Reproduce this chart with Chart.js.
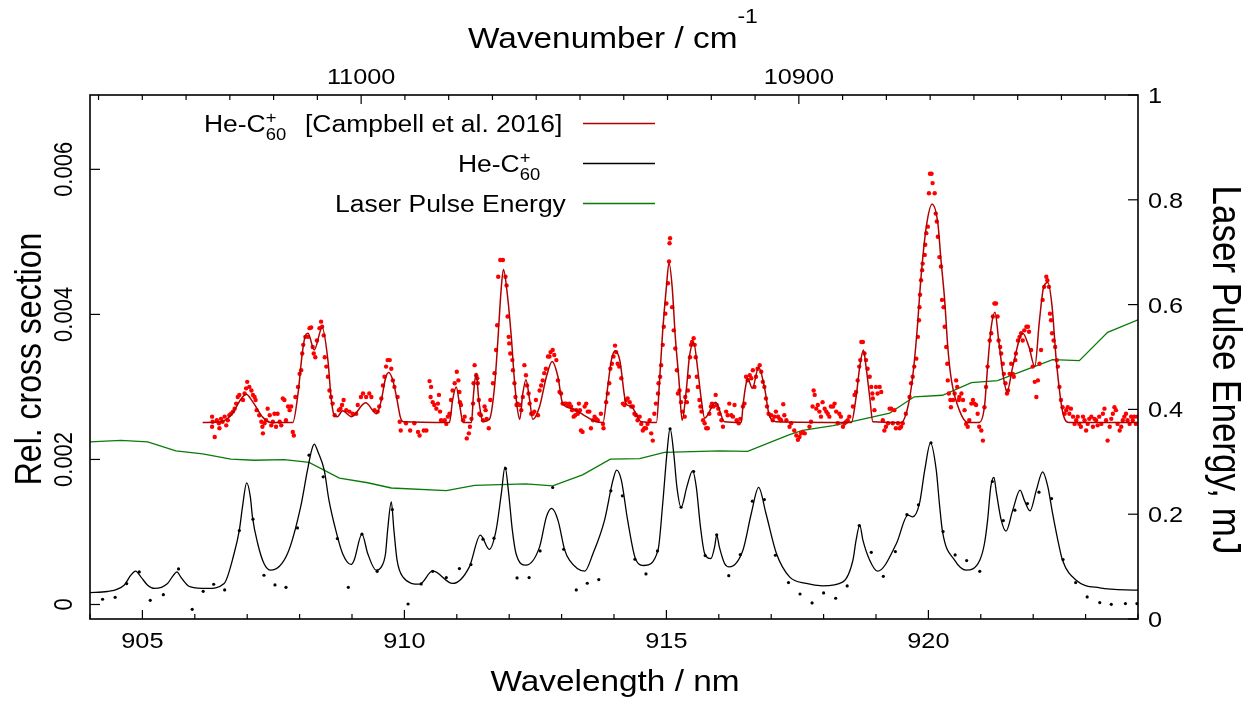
<!DOCTYPE html>
<html>
<head>
<meta charset="utf-8">
<title>He-C60+ spectrum</title>
<script src="https://cdn.jsdelivr.net/npm/chart.js@4.4.1/dist/chart.umd.min.js"></script>
<style>
	html, body { margin: 0; padding: 0; background: #ffffff; }
	#wrap { width: 1248px; height: 702px; }
</style>
</head>
<body>
<div id="wrap"><canvas id="chart" width="1248" height="702"></canvas></div>
<script>

// Tick positions and labels
const nmMajor = [905, 910, 915, 920];
const nmMinor = [904, 905, 906, 907, 908, 909, 910, 911, 912, 913, 914, 915, 916, 917, 918, 919, 920, 921, 922, 923, 924];
const wnMajor = [11000, 10900];
const wnMinor = [11060, 11050, 11040, 11030, 11020, 11010, 11000, 10990, 10980, 10970, 10960, 10950, 10940, 10930, 10920, 10910, 10900, 10890, 10880, 10870, 10860, 10850, 10840, 10830];
const crossTicks = [0, 0.002, 0.004, 0.006];
const crossLabels = ['0', '0.002', '0.004', '0.006'];
const energyTicks = [0, 0.2, 0.4, 0.6, 0.8, 1];
const energyLabels = ['0', '0.2', '0.4', '0.6', '0.8', '1'];

// He-C60+ [Campbell et al. 2016]: fitted profile (nm, rel. cross section)
const campbellFit = [
	[906.15,0.00251],[906.50,0.00252],[906.70,0.00262],[906.90,0.00285],[906.98,0.00290],[907.10,0.00280],[907.30,0.00258],[907.45,0.00251],
	[907.87,0.00251],[907.97,0.00291],[908.05,0.00346],[908.11,0.00371],[908.16,0.00374],[908.28,0.00351],[908.43,0.00382],[908.54,0.00337],
	[908.60,0.00286],[908.65,0.00263],[908.72,0.00259],[908.82,0.00267],[908.99,0.00259],[909.26,0.00278],[909.47,0.00263],[909.56,0.00282],
	[909.64,0.00312],[909.70,0.00320],[909.78,0.00309],[909.86,0.00282],[909.92,0.00259],[909.98,0.00252],[910.86,0.00251],[910.92,0.00282],
	[910.99,0.00300],[911.05,0.00277],[911.12,0.00251],[911.28,0.00251],[911.32,0.00291],[911.37,0.00319],[911.42,0.00282],[911.50,0.00252],
	[911.62,0.00255],[911.72,0.00300],[911.78,0.00360],[911.85,0.00438],[911.89,0.00462],[911.97,0.00424],[912.04,0.00369],[912.10,0.00309],
	[912.15,0.00273],[912.20,0.00255],[912.26,0.00291],[912.32,0.00310],[912.39,0.00282],[912.45,0.00255],[912.58,0.00273],[912.71,0.00314],
	[912.82,0.00335],[912.93,0.00314],[913.02,0.00277],[913.21,0.00270],[913.47,0.00259],[913.66,0.00252],[913.79,0.00251],[913.88,0.00300],
	[913.95,0.00337],[914.02,0.00350],[914.11,0.00337],[914.23,0.00277],[914.33,0.00273],[914.52,0.00252],[914.81,0.00251],[914.87,0.00309],
	[914.93,0.00378],[915.00,0.00438],[915.05,0.00471],[915.11,0.00438],[915.17,0.00369],[915.24,0.00309],[915.30,0.00254],[915.38,0.00296],
	[915.44,0.00342],[915.52,0.00361],[915.60,0.00323],[915.66,0.00286],[915.73,0.00257],[915.94,0.00279],[916.11,0.00252],[916.43,0.00251],
	[916.46,0.00273],[916.51,0.00300],[916.55,0.00312],[916.64,0.00298],[916.76,0.00327],[916.87,0.00300],[916.97,0.00259],[917.10,0.00252],
	[918.53,0.00251],[918.62,0.00286],[918.69,0.00328],[918.76,0.00351],[918.81,0.00328],[918.88,0.00286],[918.94,0.00252],[919.48,0.00251],
	[919.61,0.00273],[919.70,0.00314],[919.78,0.00374],[919.86,0.00452],[919.96,0.00521],[920.07,0.00552],[920.18,0.00526],[920.24,0.00475],
	[920.31,0.00420],[920.37,0.00355],[920.44,0.00309],[920.59,0.00268],[920.75,0.00251],[920.97,0.00251],[921.07,0.00273],[921.13,0.00328],
	[921.20,0.00383],[921.27,0.00403],[921.34,0.00365],[921.42,0.00319],[921.50,0.00293],[921.61,0.00328],[921.80,0.00374],[921.92,0.00355],
	[922.03,0.00328],[922.12,0.00392],[922.20,0.00438],[922.28,0.00444],[922.36,0.00411],[922.44,0.00337],[922.57,0.00263],[922.69,0.00251],
	[924.00,0.00251]
];

// He-C60+ [Campbell et al. 2016]: measured points
const campbellPoints = [
	[906.33,0.00259],[906.34,0.00252],[906.33,0.00245],[906.38,0.00231],[906.42,0.00254],[906.46,0.00250],[906.47,0.00243],[906.50,0.00256],
	[906.53,0.00252],[906.57,0.00259],[906.60,0.00247],[906.63,0.00254],[906.66,0.00261],[906.69,0.00263],[906.73,0.00266],[906.76,0.00270],
	[906.79,0.00277],[906.82,0.00286],[906.85,0.00289],[906.92,0.00282],[906.95,0.00291],[906.98,0.00298],[907.00,0.00307],[907.04,0.00300],
	[907.08,0.00295],[907.11,0.00289],[907.14,0.00286],[907.16,0.00282],[907.18,0.00268],[907.23,0.00261],[907.27,0.00252],[907.29,0.00245],
	[907.30,0.00236],[907.33,0.00250],[907.36,0.00254],[907.39,0.00270],[907.43,0.00261],[907.46,0.00247],[907.49,0.00252],[907.52,0.00263],
	[907.55,0.00245],[907.58,0.00263],[907.62,0.00252],[907.65,0.00247],[907.68,0.00284],[907.71,0.00282],[907.74,0.00254],[907.78,0.00273],
	[907.81,0.00268],[907.84,0.00273],[907.87,0.00238],[907.89,0.00233],[907.92,0.00286],[907.97,0.00300],[908.00,0.00318],[908.03,0.00323],
	[908.05,0.00346],[908.07,0.00358],[908.11,0.00369],[908.16,0.00369],[908.19,0.00381],[908.22,0.00382],[908.25,0.00355],[908.27,0.00346],
	[908.30,0.00341],[908.33,0.00364],[908.38,0.00381],[908.41,0.00390],[908.43,0.00383],[908.46,0.00371],[908.48,0.00341],[908.51,0.00328],
	[908.54,0.00314],[908.57,0.00295],[908.60,0.00286],[908.63,0.00277],[908.67,0.00261],[908.75,0.00268],[908.78,0.00270],[908.81,0.00275],
	[908.84,0.00282],[908.89,0.00268],[908.95,0.00266],[909.01,0.00263],[909.08,0.00263],[909.11,0.00275],[909.17,0.00286],[909.21,0.00291],
	[909.27,0.00286],[909.33,0.00291],[909.37,0.00286],[909.43,0.00268],[909.49,0.00266],[909.52,0.00273],[909.56,0.00284],[909.59,0.00302],
	[909.62,0.00314],[909.65,0.00328],[909.68,0.00337],[909.72,0.00337],[909.75,0.00325],[909.78,0.00309],[909.81,0.00300],[909.87,0.00286],
	[909.91,0.00252],[909.93,0.00240],[910.03,0.00250],[910.11,0.00240],[910.19,0.00250],[910.26,0.00238],[910.29,0.00233],[910.37,0.00240],
	[910.42,0.00240],[910.48,0.00308],[910.51,0.00300],[910.50,0.00286],[910.54,0.00279],[910.57,0.00275],[910.61,0.00270],[910.64,0.00277],
	[910.66,0.00289],[910.68,0.00266],[910.70,0.00254],[910.77,0.00254],[910.80,0.00249],[910.83,0.00259],[910.86,0.00263],[910.89,0.00282],
	[910.92,0.00295],[910.96,0.00305],[911.00,0.00321],[911.03,0.00309],[911.05,0.00293],[911.06,0.00279],[911.08,0.00275],[911.12,0.00254],
	[911.15,0.00259],[911.19,0.00229],[911.23,0.00236],[911.25,0.00245],[911.28,0.00256],[911.31,0.00277],[911.32,0.00305],[911.34,0.00330],
	[911.37,0.00316],[911.39,0.00312],[911.40,0.00305],[911.42,0.00282],[911.43,0.00263],[911.46,0.00261],[911.50,0.00254],[911.53,0.00273],
	[911.55,0.00268],[911.57,0.00256],[911.61,0.00243],[911.64,0.00282],[911.69,0.00305],[911.72,0.00319],[911.75,0.00351],[911.77,0.00385],
	[911.79,0.00452],[911.83,0.00475],[911.88,0.00475],[911.93,0.00452],[911.95,0.00440],[911.97,0.00397],[911.99,0.00369],[912.00,0.00360],
	[912.02,0.00346],[912.06,0.00337],[912.07,0.00323],[912.10,0.00305],[912.12,0.00286],[912.14,0.00275],[912.16,0.00277],[912.20,0.00275],
	[912.23,0.00268],[912.26,0.00286],[912.29,0.00330],[912.32,0.00316],[912.34,0.00302],[912.37,0.00291],[912.39,0.00277],[912.42,0.00263],
	[912.45,0.00263],[912.48,0.00266],[912.51,0.00282],[912.55,0.00261],[912.58,0.00295],[912.61,0.00302],[912.64,0.00309],[912.67,0.00319],
	[912.70,0.00325],[912.74,0.00342],[912.77,0.00342],[912.79,0.00348],[912.83,0.00351],[912.86,0.00344],[912.90,0.00337],[912.93,0.00309],
	[912.96,0.00293],[912.99,0.00291],[913.02,0.00277],[913.06,0.00277],[913.09,0.00277],[913.12,0.00275],[913.15,0.00277],[913.18,0.00273],
	[913.20,0.00268],[913.23,0.00259],[913.26,0.00261],[913.28,0.00268],[913.31,0.00263],[913.33,0.00277],[913.35,0.00268],[913.37,0.00240],
	[913.40,0.00238],[913.44,0.00273],[913.47,0.00277],[913.50,0.00266],[913.53,0.00266],[913.56,0.00243],[913.60,0.00254],[913.63,0.00259],
	[913.66,0.00256],[913.69,0.00254],[913.75,0.00263],[913.79,0.00249],[913.80,0.00243],[913.85,0.00279],[913.88,0.00291],[913.91,0.00305],
	[913.93,0.00325],[913.96,0.00332],[913.99,0.00342],[914.02,0.00357],[914.04,0.00348],[914.07,0.00332],[914.10,0.00328],[914.14,0.00312],
	[914.17,0.00277],[914.20,0.00275],[914.23,0.00282],[914.26,0.00284],[914.30,0.00279],[914.33,0.00273],[914.36,0.00273],[914.39,0.00263],
	[914.42,0.00261],[914.45,0.00254],[914.49,0.00259],[914.52,0.00249],[914.55,0.00240],[914.58,0.00243],[914.61,0.00243],[914.64,0.00249],
	[914.68,0.00254],[914.71,0.00236],[914.74,0.00226],[914.77,0.00263],[914.80,0.00277],[914.84,0.00291],[914.85,0.00305],[914.88,0.00314],
	[914.90,0.00330],[914.93,0.00358],[914.95,0.00383],[914.98,0.00401],[915.00,0.00415],[915.03,0.00443],[915.05,0.00473],[915.06,0.00498],
	[915.07,0.00505],[915.11,0.00410],[915.14,0.00378],[915.17,0.00353],[915.20,0.00323],[915.22,0.00291],[915.25,0.00295],[915.28,0.00279],
	[915.31,0.00266],[915.35,0.00259],[915.36,0.00286],[915.39,0.00279],[915.41,0.00295],[915.43,0.00314],[915.45,0.00341],[915.47,0.00358],
	[915.49,0.00362],[915.52,0.00367],[915.54,0.00358],[915.56,0.00341],[915.58,0.00314],[915.60,0.00300],[915.63,0.00282],[915.65,0.00273],
	[915.67,0.00266],[915.70,0.00254],[915.73,0.00250],[915.76,0.00243],[915.79,0.00243],[915.82,0.00263],[915.85,0.00273],[915.87,0.00277],
	[915.90,0.00273],[915.94,0.00289],[915.96,0.00275],[915.99,0.00270],[916.01,0.00263],[916.05,0.00254],[916.08,0.00245],[916.14,0.00266],
	[916.17,0.00261],[916.20,0.00277],[916.24,0.00261],[916.27,0.00259],[916.30,0.00275],[916.34,0.00254],[916.38,0.00250],[916.41,0.00256],
	[916.46,0.00273],[916.49,0.00277],[916.52,0.00314],[916.55,0.00309],[916.59,0.00316],[916.62,0.00312],[916.65,0.00323],[916.68,0.00300],
	[916.71,0.00314],[916.74,0.00325],[916.78,0.00330],[916.81,0.00321],[916.84,0.00307],[916.87,0.00300],[916.90,0.00284],[916.92,0.00273],
	[916.95,0.00263],[917.00,0.00261],[917.03,0.00254],[917.06,0.00259],[917.09,0.00266],[917.13,0.00259],[917.16,0.00256],[917.19,0.00254],
	[917.23,0.00276],[917.25,0.00261],[917.29,0.00254],[917.35,0.00245],[917.38,0.00250],[917.44,0.00240],[917.48,0.00233],[917.51,0.00227],
	[917.54,0.00231],[917.57,0.00236],[917.60,0.00238],[917.64,0.00236],[917.73,0.00245],[917.76,0.00252],[917.79,0.00273],[917.81,0.00295],
	[917.83,0.00289],[917.86,0.00270],[917.89,0.00275],[917.92,0.00266],[917.95,0.00259],[917.98,0.00279],[918.02,0.00270],[918.05,0.00266],
	[918.08,0.00263],[918.11,0.00259],[918.14,0.00273],[918.18,0.00273],[918.21,0.00277],[918.24,0.00266],[918.27,0.00250],[918.30,0.00263],
	[918.33,0.00259],[918.37,0.00245],[918.40,0.00250],[918.43,0.00252],[918.46,0.00254],[918.49,0.00259],[918.56,0.00273],[918.59,0.00289],
	[918.62,0.00293],[918.65,0.00309],[918.68,0.00328],[918.70,0.00337],[918.72,0.00362],[918.75,0.00362],[918.78,0.00346],[918.81,0.00337],
	[918.84,0.00325],[918.88,0.00314],[918.91,0.00300],[918.93,0.00291],[918.94,0.00284],[918.97,0.00268],[919.00,0.00300],[919.03,0.00291],
	[919.07,0.00300],[919.10,0.00293],[919.13,0.00254],[919.16,0.00240],[919.19,0.00245],[919.23,0.00250],[919.26,0.00270],[919.29,0.00270],
	[919.32,0.00250],[919.35,0.00268],[919.38,0.00243],[919.42,0.00250],[919.45,0.00243],[919.48,0.00245],[919.51,0.00250],[919.57,0.00263],
	[919.64,0.00286],[919.67,0.00305],[919.70,0.00314],[919.73,0.00328],[919.77,0.00339],[919.80,0.00369],[919.82,0.00392],[919.83,0.00410],
	[919.84,0.00427],[919.86,0.00447],[919.88,0.00461],[919.89,0.00470],[919.93,0.00482],[919.94,0.00496],[919.96,0.00512],[919.99,0.00521],
	[920.01,0.00567],[920.03,0.00594],[920.06,0.00594],[920.08,0.00581],[920.12,0.00567],[920.14,0.00539],[920.16,0.00528],[920.18,0.00507],
	[920.21,0.00479],[920.24,0.00466],[920.26,0.00420],[920.29,0.00410],[920.31,0.00383],[920.34,0.00355],[920.36,0.00332],[920.37,0.00309],
	[920.39,0.00291],[920.42,0.00282],[920.43,0.00272],[920.47,0.00282],[920.50,0.00291],[920.53,0.00309],[920.55,0.00300],[920.58,0.00282],
	[920.59,0.00286],[920.63,0.00291],[920.66,0.00282],[920.69,0.00268],[920.72,0.00249],[920.75,0.00245],[920.78,0.00254],[920.82,0.00277],
	[920.85,0.00282],[920.88,0.00277],[920.91,0.00275],[920.94,0.00263],[920.97,0.00245],[921.01,0.00240],[921.04,0.00226],[921.07,0.00272],
	[921.10,0.00300],[921.13,0.00328],[921.17,0.00364],[921.20,0.00374],[921.23,0.00397],[921.26,0.00415],[921.29,0.00415],[921.32,0.00397],
	[921.34,0.00364],[921.37,0.00355],[921.39,0.00346],[921.42,0.00332],[921.44,0.00318],[921.47,0.00305],[921.50,0.00291],[921.52,0.00295],
	[921.55,0.00318],[921.58,0.00332],[921.61,0.00318],[921.63,0.00314],[921.66,0.00337],[921.67,0.00346],[921.71,0.00364],[921.74,0.00369],
	[921.77,0.00374],[921.80,0.00364],[921.83,0.00378],[921.87,0.00383],[921.90,0.00383],[921.92,0.00376],[921.96,0.00351],[921.99,0.00328],
	[922.03,0.00307],[922.06,0.00286],[922.09,0.00309],[922.12,0.00332],[922.15,0.00351],[922.18,0.00420],[922.21,0.00438],[922.25,0.00452],
	[922.27,0.00447],[922.30,0.00438],[922.32,0.00401],[922.34,0.00392],[922.36,0.00374],[922.39,0.00364],[922.42,0.00355],[922.45,0.00337],
	[922.47,0.00328],[922.50,0.00300],[922.53,0.00282],[922.56,0.00272],[922.60,0.00263],[922.63,0.00268],[922.66,0.00272],[922.69,0.00263],
	[922.72,0.00270],[922.76,0.00259],[922.79,0.00249],[922.82,0.00254],[922.85,0.00259],[922.88,0.00249],[922.91,0.00245],[922.95,0.00259],
	[922.98,0.00254],[923.01,0.00240],[923.04,0.00249],[923.07,0.00256],[923.11,0.00259],[923.14,0.00245],[923.17,0.00256],[923.20,0.00254],
	[923.23,0.00247],[923.26,0.00259],[923.30,0.00249],[923.33,0.00263],[923.36,0.00270],[923.39,0.00254],[923.42,0.00226],[923.46,0.00245],
	[923.49,0.00256],[923.52,0.00263],[923.55,0.00272],[923.58,0.00268],[923.61,0.00249],[923.65,0.00240],[923.68,0.00245],[923.71,0.00254],
	[923.74,0.00259],[923.77,0.00263],[923.80,0.00254],[923.84,0.00249],[923.87,0.00259],[923.90,0.00254],[923.93,0.00259],[923.96,0.00249],
	[923.99,0.00259]
];

// He-C60+ (this work): profile
const heLine = [
	[904.00,0.000165],[904.33,0.000179],[904.65,0.000266],[904.78,0.000404],[904.87,0.000459],[904.97,0.000381],[905.10,0.000266],[905.23,0.000221],
	[905.48,0.000290],[905.57,0.000381],[905.66,0.000450],[905.73,0.000381],[905.86,0.000266],[905.92,0.000243],[906.24,0.000221],[906.56,0.000290],
	[906.75,0.000703],[906.85,0.001025],[906.91,0.001346],[906.99,0.001677],[907.06,0.001484],[907.10,0.001208],[907.20,0.000841],[907.32,0.000566],
	[907.45,0.000473],[907.77,0.000703],[908.02,0.001346],[908.15,0.001852],[908.23,0.002128],[908.28,0.002211],[908.35,0.002105],[908.47,0.001852],
	[908.56,0.001439],[908.69,0.001025],[908.82,0.000703],[908.98,0.000552],[909.04,0.000611],[909.19,0.000970],[909.30,0.000703],[909.46,0.000473],
	[909.56,0.000519],[909.64,0.000703],[909.68,0.001025],[909.75,0.001415],[909.80,0.001025],[909.86,0.000611],[909.97,0.000381],[910.29,0.000280],
	[910.54,0.000463],[910.92,0.000290],[911.24,0.000519],[911.45,0.000956],[911.62,0.000759],[911.75,0.001025],[911.85,0.001531],[911.92,0.001898],
	[911.99,0.001531],[912.06,0.001025],[912.13,0.000703],[912.32,0.000542],[912.58,0.000794],[912.71,0.001208],[912.81,0.001324],[912.93,0.001163],
	[913.06,0.000749],[913.15,0.000611],[913.44,0.000459],[913.60,0.000703],[913.82,0.001163],[913.98,0.001714],[914.05,0.001852],[914.14,0.001714],
	[914.26,0.001163],[914.42,0.000611],[914.58,0.000538],[914.84,0.000749],[914.93,0.001393],[915.01,0.002083],[915.07,0.002428],[915.14,0.002083],
	[915.20,0.001622],[915.28,0.001338],[915.39,0.001622],[915.50,0.001843],[915.57,0.001622],[915.65,0.001070],[915.73,0.000703],[915.85,0.000634],
	[915.92,0.000794],[915.96,0.000956],[916.01,0.000794],[916.11,0.000566],[916.20,0.000519],[916.46,0.000749],[916.62,0.001255],[916.76,0.001614],
	[916.90,0.001255],[917.10,0.000703],[917.35,0.000381],[917.67,0.000290],[917.98,0.000257],[918.37,0.000312],[918.56,0.000611],[918.62,0.000887],
	[918.69,0.001094],[918.75,0.000887],[918.88,0.000611],[919.03,0.000459],[919.39,0.000841],[919.61,0.001232],[919.70,0.001208],[919.83,0.001393],
	[919.93,0.001852],[920.04,0.002229],[920.15,0.001852],[920.21,0.001393],[920.27,0.001001],[920.50,0.000611],[920.72,0.000473],[920.98,0.000611],
	[921.07,0.000841],[921.13,0.001163],[921.19,0.001622],[921.25,0.001752],[921.30,0.001531],[921.39,0.001163],[921.48,0.001011],[921.61,0.001301],
	[921.75,0.001577],[921.83,0.001439],[921.94,0.001291],[922.06,0.001577],[922.18,0.001829],[922.28,0.001622],[922.37,0.001255],[922.47,0.000887],
	[922.56,0.000611],[922.82,0.000335],[923.27,0.000229],[924.00,0.000197]
];

// He-C60+ (this work): measured points
const hePoints = [
	[904.24,0.000072],[904.48,0.000099],[904.70,0.000288],[904.94,0.000449],[905.15,0.000058],[905.40,0.000136],[905.69,0.000490],[905.95,-0.000066],
	[906.16,0.000182],[906.36,0.000279],[906.57,0.000201],[906.85,0.001019],[907.11,0.001176],[907.32,0.000403],[907.53,0.000270],[907.74,0.000237],
	[907.96,0.001056],[908.18,0.002059],[908.45,0.001760],[908.72,0.000909],[908.93,0.000237],[909.19,0.000969],[909.48,0.000458],[909.77,0.001309],
	[910.07,0.000007],[910.32,0.000283],[910.54,0.000458],[910.80,0.000371],[911.05,0.000495],[911.27,0.000550],[911.50,0.000900],[911.71,0.000914],
	[911.93,0.001875],[912.15,0.000366],[912.38,0.000371],[912.59,0.000739],[912.83,0.001613],[913.04,0.000762],[913.28,0.000201],[913.49,0.000293],
	[913.71,0.000343],[913.94,0.001567],[914.16,0.001498],[914.40,0.000624],[914.61,0.000421],[914.83,0.000739],[915.07,0.002422],[915.28,0.001341],
	[915.52,0.001834],[915.74,0.000674],[915.96,0.000960],[916.19,0.000398],[916.41,0.000688],[916.64,0.001424],[916.87,0.001447],[917.08,0.000679],
	[917.33,0.000302],[917.55,0.000145],[917.78,0.000021],[918.00,0.000159],[918.23,0.000086],[918.45,0.000256],[918.68,0.001088],[918.91,0.000720],
	[919.14,0.000389],[919.37,0.000730],[919.59,0.001240],[919.81,0.001374],[920.05,0.002229],[920.28,0.001006],[920.51,0.000684],[920.73,0.000605],
	[920.98,0.000458],[921.22,0.001696],[921.43,0.001157],[921.65,0.001300],[921.89,0.001392],[922.11,0.001548],[922.35,0.001461],[922.57,0.000619],
	[922.81,0.000302],[923.03,0.000104],[923.27,0.000026],[923.49,0.000003],[923.76,0.000012],[923.98,0.000012]
];

// Laser pulse energy (nm, mJ)
const laserEnergy = [
	[904.00,0.338],[904.59,0.341],[905.10,0.338],[905.64,0.321],[906.15,0.315],[906.69,0.305],[907.13,0.303],[907.71,0.304],
	[908.18,0.299],[908.76,0.269],[909.30,0.260],[909.75,0.250],[910.80,0.245],[911.34,0.255],[912.32,0.258],[912.83,0.254],
	[913.40,0.275],[913.93,0.305],[914.49,0.306],[914.96,0.318],[916.01,0.321],[916.55,0.320],[917.35,0.352],[917.60,0.360],
	[918.18,0.369],[918.56,0.377],[919.26,0.393],[919.73,0.424],[920.27,0.427],[920.82,0.451],[921.32,0.455],[921.87,0.476],
	[922.37,0.495],[922.88,0.493],[923.42,0.547],[924.00,0.571]
];


// Text rendering: the reference is slightly wider than tall, so text is stretched horizontally
const FONT = '"Liberation Sans", Arial, sans-serif';
const STRETCH = 1.15;

// Measure a list of text parts (sub/superscripts may be stacked on the previous part)
function partsWidth (ctx, parts)
{
	let width = 0, last = 0;
	parts.forEach(part => {
		ctx.font = part.size + 'px ' + FONT;
		const w = ctx.measureText(part.text).width;
		if (part.stack) {
			width += Math.max(0, w - last);
			last = Math.max(last, w);
		} else {
			width += w;
			last = w;
		}
	});
	return width;
}

// Draw text parts at a point, with alignment and optional rotation
function drawParts (ctx, parts, x, y, align, angle)
{
	ctx.save();
	ctx.translate(x, y);
	ctx.scale(STRETCH, 1);
	if (angle) {
		ctx.rotate(angle);
	}
	const width = partsWidth(ctx, parts);
	let cursor = (align === 'right' ? -width : (align === 'center' ? -width / 2 : 0));
	let prevX = cursor, prevW = 0;
	ctx.textAlign = 'left';
	ctx.textBaseline = 'alphabetic';
	parts.forEach(part => {
		ctx.font = part.size + 'px ' + FONT;
		const w = ctx.measureText(part.text).width;
		if (part.stack) {
			ctx.fillText(part.text, prevX, part.dy || 0);
			cursor = prevX + Math.max(prevW, w);
			prevW = Math.max(prevW, w);
		} else {
			ctx.fillText(part.text, cursor, part.dy || 0);
			prevX = cursor;
			prevW = w;
			cursor += w;
		}
	});
	ctx.restore();
}

function tickLine (ctx, x1, y1, x2, y2)
{
	ctx.beginPath();
	ctx.moveTo(x1, y1);
	ctx.lineTo(x2, y2);
	ctx.stroke();
}

// Legend entries: gnuplot leaves its enhanced-text pieces where it measured them, so each piece has its own start
const heC60 = [{text: 'He-C', size: 23}, {text: '60', size: 16, dy: 8}, {text: '+', size: 16, dy: -9, stack: true}];
const legendItems = [
	{colour: '#b00000', pieces: [{x: 204, parts: heC60}, {x: 305, parts: [{text: '[Campbell et al. 2016]', size: 23}]}]},
	{colour: '#000000', pieces: [{x: 458, parts: heC60}]},
	{colour: '#0a7a0a', pieces: [{x: 335, parts: [{text: 'Laser Pulse Energy', size: 23}]}]}
];

// Frame, inward ticks, labels, titles and legend
const gnuplotFrame = {
	id: 'gnuplotFrame',
	afterDraw (chart)
	{
		const ctx = chart.ctx;
		const area = chart.chartArea;
		const {x, x2, y, y2} = chart.scales;
		ctx.save();
		ctx.strokeStyle = '#000000';
		ctx.fillStyle = '#000000';
		ctx.lineWidth = 1.2;

		// Bottom axis (wavelength)
		nmMinor.forEach(v => {
			const px = x.getPixelForValue(v);
			tickLine(ctx, px, area.bottom, px, area.bottom - (nmMajor.includes(v) ? 9 : 5));
		});
		nmMajor.forEach(v => {
			drawParts(ctx, [{text: String(v), size: 22}], x.getPixelForValue(v), 648, 'center');
		});

		// Top axis (wavenumber)
		wnMinor.forEach(v => {
			const px = x2.getPixelForValue(v);
			tickLine(ctx, px, area.top, px, area.top + (wnMajor.includes(v) ? 9 : 5));
		});
		wnMajor.forEach(v => {
			drawParts(ctx, [{text: String(v), size: 22}], x2.getPixelForValue(v), 84, 'center');
		});

		// Left axis (cross section), labels rotated
		crossTicks.forEach((v, i) => {
			const py = y.getPixelForValue(v);
			tickLine(ctx, area.left, py, area.left + 10, py);
			drawParts(ctx, [{text: crossLabels[i], size: 22}], 72, py, 'center', -Math.PI / 2);
		});

		// Right axis (pulse energy)
		energyTicks.forEach((v, i) => {
			const py = y2.getPixelForValue(v);
			tickLine(ctx, area.right, py, area.right - 10, py);
			drawParts(ctx, [{text: energyLabels[i], size: 22}], 1148, py + 8, 'left');
		});

		// Border
		ctx.lineWidth = 1.6;
		ctx.strokeRect(area.left, area.top, area.right - area.left, area.bottom - area.top);

		// Axis titles
		drawParts(ctx, [{text: 'Wavelength / nm', size: 29}], 615, 691, 'center');
		drawParts(ctx, [{text: 'Wavenumber / cm', size: 29}, {text: '-1', size: 20, dy: -25}], 613, 48, 'center');
		drawParts(ctx, [{text: 'Rel. cross section', size: 32}], 41, 359, 'center', -Math.PI / 2);
		drawParts(ctx, [{text: 'Laser Pulse Energy, mJ', size: 35}], 1213, 370, 'center', Math.PI / 2);

		// Legend
		legendItems.forEach((item, i) => {
			const ly = 123.5 + i * 40;
			item.pieces.forEach(piece => {
				drawParts(ctx, piece.parts, piece.x, ly + 8.3, 'left');
			});
			ctx.strokeStyle = item.colour;
			ctx.lineWidth = 1.3;
			tickLine(ctx, 583, ly, 655, ly);
		});
		ctx.restore();
	}
};

const toXY = list => list.map(p => ({x: p[0], y: p[1]}));

new Chart(document.getElementById('chart').getContext('2d'), {
	type: 'line',
	data: {
		datasets: [
			{
				type: 'line',
				data: toXY(campbellFit),
				borderColor: '#b00000',
				borderWidth: 1.5,
				pointRadius: 0,
				cubicInterpolationMode: 'monotone',
				xAxisID: 'x',
				yAxisID: 'y'
			},
			{
				type: 'scatter',
				data: toXY(campbellPoints),
				pointRadius: 2.2,
				pointBackgroundColor: '#ff0000',
				pointBorderColor: '#ff0000',
				pointBorderWidth: 0,
				showLine: false,
				xAxisID: 'x',
				yAxisID: 'y'
			},
			{
				type: 'line',
				data: toXY(heLine),
				borderColor: '#000000',
				borderWidth: 1.3,
				pointRadius: 0,
				cubicInterpolationMode: 'monotone',
				xAxisID: 'x',
				yAxisID: 'y'
			},
			{
				type: 'scatter',
				data: toXY(hePoints),
				pointRadius: 1.6,
				pointBackgroundColor: '#000000',
				pointBorderColor: '#000000',
				pointBorderWidth: 0,
				showLine: false,
				xAxisID: 'x',
				yAxisID: 'y'
			},
			{
				type: 'line',
				data: toXY(laserEnergy),
				borderColor: '#0a7a0a',
				borderWidth: 1.3,
				pointRadius: 0,
				tension: 0,
				xAxisID: 'x',
				yAxisID: 'y2'
			}
		]
	},
	options: {
		responsive: false,
		animation: false,
		devicePixelRatio: 1,
		events: [],
		layout: {padding: 0},
		plugins: {
			legend: {display: false},
			tooltip: {enabled: false}
		},
		scales: {
			x: {
				type: 'linear', position: 'bottom', min: 904, max: 924,
				ticks: {display: false}, grid: {display: false}, border: {display: false},
				afterFit: scale => { scale.height = 83; }
			},
			x2: {
				type: 'linear', position: 'top', min: 10822.51, max: 11061.95, reverse: true,
				ticks: {display: false}, grid: {display: false}, border: {display: false},
				afterFit: scale => { scale.height = 95; }
			},
			y: {
				type: 'linear', position: 'left', min: -0.0002, max: 0.007025,
				ticks: {display: false}, grid: {display: false}, border: {display: false},
				afterFit: scale => { scale.width = 90; }
			},
			y2: {
				type: 'linear', position: 'right', min: 0, max: 1,
				ticks: {display: false}, grid: {display: false}, border: {display: false},
				afterFit: scale => { scale.width = 110; }
			}
		}
	},
	plugins: [gnuplotFrame]
});
</script>
</body>
</html>
